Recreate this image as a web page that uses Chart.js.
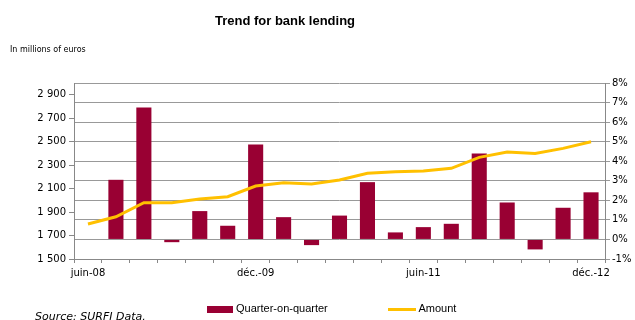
<!DOCTYPE html>
<html>
<head>
<meta charset="utf-8">
<script src="https://cdn.jsdelivr.net/npm/chart.js@4"></script>
<style>
  body { margin: 0; background: #fff; }
  #wrap { position: relative; width: 635px; height: 320px; overflow: hidden; font-family: "DejaVu Sans", Verdana, sans-serif; }
  #title { position: absolute; left: 0; width: 570px; top: 13px; text-align: center; font: bold 13px "Liberation Sans", Arial, sans-serif; }
  #unit { position: absolute; left: 10px; top: 45px; font-size: 8px; }
  #source { position: absolute; left: 35px; top: 310px; font-size: 11px; font-style: italic; }
  .leg { position: absolute; top: 302px; font: 11px "Liberation Sans", Arial, sans-serif; }
  .box { display: inline-block; vertical-align: middle; }
</style>
</head>
<body>
<div id="wrap">
  <canvas id="chart" width="635" height="320"></canvas>
  <div id="title">Trend for bank lending</div>
  <div id="unit">In millions of euros</div>
  <div id="source">Source: SURFI Data.</div>
  <div class="leg" style="left:207px"><span class="box" style="width:26px;height:7px;background:#990033"></span> Quarter-on-quarter</div>
  <div class="leg" style="left:388px"><span class="box" style="width:28px;height:3px;background:#ffc000"></span> Amount</div>
</div>
<script>
// trimestres juin-08 -> déc.-12
const labels = ['juin-08', 'sept.-08', 'déc.-08', 'mars-09', 'juin-09', 'sept.-09', 'déc.-09',
    'mars-10', 'juin-10', 'sept.-10', 'déc.-10', 'mars-11', 'juin-11', 'sept.-11', 'déc.-11',
    'mars-12', 'juin-12', 'sept.-12', 'déc.-12'];
// encours (millions d'euros)
const amount = [1798, 1860, 1980, 1980, 2011, 2031, 2122, 2150, 2139, 2173, 2230, 2244, 2250,
    2273, 2366, 2412, 2400, 2443, 2500];
// variation trimestrielle (%)
const qoq = [null, 3.05, 6.75, -0.14, 1.45, 0.70, 4.85, 1.14, -0.29, 1.22, 2.93, 0.36, 0.63,
    0.80, 4.40, 1.89, -0.51, 1.62, 2.41];
const shownLabels = ['juin-08', 'déc.-09', 'juin-11', 'déc.-12'];
const leftTicks = [1500, 1700, 1900, 2100, 2300, 2500, 2700, 2900];

const tickFont = { family: 'DejaVu Sans', size: 10 };

new Chart(document.getElementById('chart'), {
    data: {
        labels: labels,
        datasets: [{
            type: 'line',
            label: 'Amount',
            data: amount,
            yAxisID: 'y',
            borderColor: '#ffc000',
            borderWidth: 3,
            pointRadius: 0,
            tension: 0,
            order: 0
        }, {
            type: 'bar',
            label: 'Quarter-on-quarter',
            data: qoq,
            yAxisID: 'y1',
            backgroundColor: '#990033',
            categoryPercentage: 1,
            barPercentage: 0.54,
            order: 1
        }]
    },
    options: {
        responsive: false,
        animation: false,
        layout: { padding: { top: 83, left: 0, right: 0, bottom: 0 } },
        plugins: {
            legend: { display: false },
            tooltip: { enabled: false }
        },
        scales: {
            x: {
                offset: true,
                afterFit: (s) => { s.height = 61; },
                grid: { offset: true, drawOnChartArea: false, color: '#888', tickLength: 4 },
                border: { color: '#888' },
                ticks: {
                    autoSkip: false,
                    maxRotation: 0,
                    padding: 4,
                    color: '#000',
                    font: tickFont,
                    callback: function (v, i) {
                        return shownLabels.includes(labels[i]) ? labels[i] : '';
                    }
                }
            },
            y: {
                position: 'left',
                min: 1500,
                max: 3000,
                afterFit: (s) => { s.width = 74; },
                afterBuildTicks: (s) => { s.ticks = leftTicks.map(v => ({ value: v })); },
                grid: { drawOnChartArea: false, color: '#888', tickLength: 5 },
                border: { color: '#888' },
                ticks: {
                    padding: 3,
                    color: '#000',
                    font: tickFont,
                    callback: (v) => Math.floor(v / 1000) + ' ' + String(v % 1000).padStart(3, '0')
                }
            },
            y1: {
                position: 'right',
                min: -1,
                max: 8,
                afterFit: (s) => { s.width = 30; },
                grid: { color: '#999', tickLength: 5 },
                border: { color: '#888' },
                ticks: {
                    stepSize: 1,
                    padding: 2,
                    color: '#000',
                    font: tickFont,
                    callback: (v) => v + '%'
                }
            }
        }
    }
});
</script>
</body>
</html>
